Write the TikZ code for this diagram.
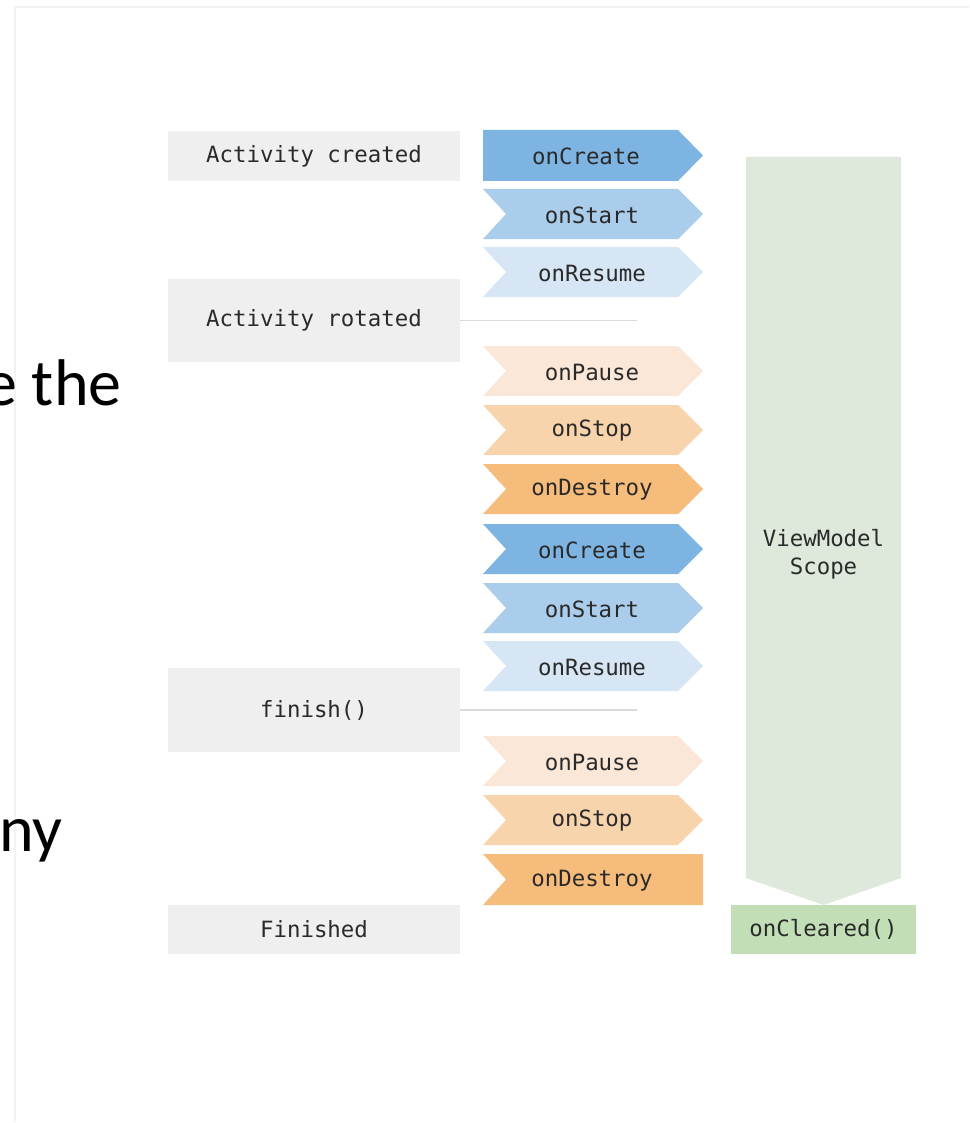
\documentclass[tikz,border=0pt]{standalone}
\usepackage{fontspec}
\newfontfamily\diagmono{DejaVu Sans Mono}
\newfontfamily\slidefont{Carlito}
\definecolor{graybox}{HTML}{EFEFEF}
\definecolor{blueA}{HTML}{7EB4E2}
\definecolor{blueB}{HTML}{AACDEC}
\definecolor{blueC}{HTML}{D6E6F4}
\definecolor{orangeA}{HTML}{FBE7D7}
\definecolor{orangeB}{HTML}{F8D4AC}
\definecolor{orangeC}{HTML}{F6BC7B}
\definecolor{scopegreen}{HTML}{DEE9DC}
\definecolor{clearedgreen}{HTML}{C1DEB6}
\definecolor{linegray}{HTML}{DADADA}
\definecolor{framegray}{HTML}{F2F2F2}
\definecolor{txt}{HTML}{2A2A2A}
\newcommand{\chevfill}[2]{\fill[#1] (483,#2) -- (678,#2) -- (703,{#2+25}) -- (678,{#2+50}) -- (483,{#2+50}) -- (506,{#2+25}) -- cycle;}
\tikzset{
  statebox/.style={fill=graybox, minimum width=292pt, inner sep=0pt, font=\diagmono\fontsize{22.4}{24}\selectfont, text=txt},
  lbl/.style={inner sep=0pt, font=\diagmono\fontsize{22.4}{28}\selectfont, text=txt},
  sepline/.style={draw=linegray, line width=1.2pt},
  slide/.style={inner sep=0pt, font=\slidefont\fontsize{66}{72}\selectfont, text=black},
}
\begin{document}
\begin{tikzpicture}[x=1pt,y=-1pt]
\useasboundingbox (0,0) rectangle (969,1123);
% frame
\draw[framegray, line width=1.5pt] (15,1121) -- (15,7) -- (969,7);
% slide text fragments
\node[slide, anchor=base west] (frag1) at (-16,405) {e the};
\node[slide, anchor=base west] (frag2) at (-1,851) {ny};
% state boxes
\node[statebox, minimum height=50pt] (created) at (314,156) {Activity created};
\node[statebox, minimum height=83pt] (rotated) at (314,320.5) {Activity rotated};
\node[statebox, minimum height=84pt] (finish) at (314,710) {finish()};
\node[statebox, minimum height=49pt] (finished) at (314,929.5) {Finished};
% separator lines
\coordinate (rotEnd) at (637,320.5);
\coordinate (finEnd) at (637,710);
\draw[sepline] (rotated.east) -- (rotEnd);
\draw[sepline] (finish.east) -- (finEnd);
% viewmodel scope
\fill[scopegreen] (746,157) -- (901,157) -- (901,878) -- (823.5,905) -- (746,878) -- cycle;
\node[lbl, align=center] (scope) at (823.5,554) {ViewModel\\Scope};
\node[lbl, fill=clearedgreen, minimum width=185pt, minimum height=49pt] (cleared) at (823.5,929.5) {onCleared()};
% chevrons
\fill[blueA] (483,130) -- (678,130) -- (703,155.5) -- (678,181) -- (483,181) -- cycle;
\node[lbl] (create1) at (586,156.5) {onCreate};
\chevfill{blueB}{189}
\node[lbl] (start1) at (592,215) {onStart};
\chevfill{blueC}{247}
\node[lbl] (resume1) at (592,273) {onResume};
\chevfill{orangeA}{346}
\node[lbl] (pause1) at (592,372) {onPause};
\chevfill{orangeB}{405}
\node[lbl] (stop1) at (592,431) {onStop};
\chevfill{orangeC}{464}
\node[lbl] (destroy1) at (592,490) {onDestroy};
\chevfill{blueA}{524}
\node[lbl] (create2) at (592,550) {onCreate};
\chevfill{blueB}{583}
\node[lbl] (start2) at (592,609) {onStart};
\chevfill{blueC}{641}
\node[lbl] (resume2) at (592,667) {onResume};
\chevfill{orangeA}{736}
\node[lbl] (pause2) at (592,762) {onPause};
\chevfill{orangeB}{795}
\node[lbl] (stop2) at (592,821) {onStop};
\fill[orangeC] (483,854) -- (703,854) -- (703,905) -- (483,905) -- (506,879.5) -- cycle;
\node[lbl] (destroy2) at (592,880.5) {onDestroy};
\end{tikzpicture}
\end{document}
